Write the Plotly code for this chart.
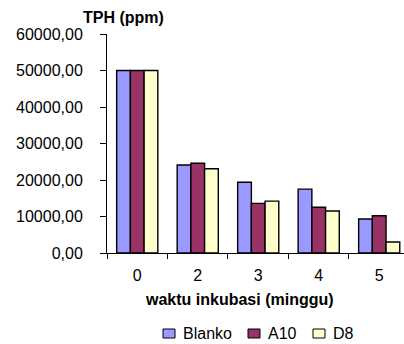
import plotly.graph_objects as go

# Incubation weeks and TPH concentration (ppm) per treatment
weeks = ["0", "2", "3", "4", "5"]
blanko = [50000, 24100, 19400, 17500, 9300]
a10 = [50000, 24600, 13600, 12550, 10200]
d8 = [50000, 23100, 14200, 11500, 3000]

series = [
    ("Blanko", blanko, "#9999FF"),
    ("A10", a10, "#993366"),
    ("D8", d8, "#FFFFCC"),
]

FONT = "Liberation Sans, Arial, sans-serif"
FS = 16

W, H = 404, 344
L, R, T, B = 107, 0, 34, 91
plot_w = W - L - R
plot_h = H - T - B


def px_x(x):
    return (x - L) / plot_w


def px_y(y):
    return (H - B - y) / plot_h


fig = go.Figure()
for name, vals, color in series:
    fig.add_trace(go.Bar(
        x=weeks, y=vals, name=name, showlegend=False,
        marker=dict(color=color, line=dict(color="#000000", width=1.4)),
    ))

annotations = [
    dict(text="<b>TPH (ppm)</b>", x=px_x(123), y=px_y(17)),
    dict(text="<b>waktu inkubasi (minggu)</b>", x=px_x(239), y=px_y(299)),
]
for a in annotations:
    a.update(xref="paper", yref="paper", xanchor="center", yanchor="middle",
             showarrow=False, font=dict(size=FS))

# Legend keys drawn as small boxes with labels beside them
shapes = []
key_left = [163, 248, 313]
for (name, _, color), kx in zip(series, key_left):
    shapes.append(dict(type="rect", xref="paper", yref="paper",
                       x0=px_x(kx), x1=px_x(kx + 12),
                       y0=px_y(338), y1=px_y(329),
                       fillcolor=color, line=dict(color="#000000", width=1)))
    annotations.append(dict(text=name, xref="paper", yref="paper",
                            x=px_x(kx + 18), y=px_y(333.5),
                            xanchor="left", yanchor="middle",
                            showarrow=False, font=dict(size=FS)))

fig.update_layout(
    width=W, height=H,
    margin=dict(l=L, r=R, t=T, b=B),
    paper_bgcolor="white", plot_bgcolor="white",
    barmode="group", bargap=0.32, bargroupgap=0,
    font=dict(family=FONT, size=FS, color="#000000"),
    separators=",.",
    showlegend=False,
    xaxis=dict(
        type="category", range=[-0.5, 4.41],
        showline=True, linecolor="#000000", linewidth=1,
        ticks="outside", tickson="boundaries", ticklen=5, tickcolor="#000000",
        showgrid=False, tickfont=dict(size=FS), ticklabelstandoff=8,
    ),
    yaxis=dict(
        range=[0, 60000], dtick=10000,
        showline=True, linecolor="#000000", linewidth=1,
        ticks="outside", ticklen=6, tickcolor="#000000",
        showgrid=False, zeroline=False,
        tickformat=".2f",
        tickfont=dict(size=FS), ticklabelstandoff=14,
    ),
    annotations=annotations,
    shapes=shapes,
)

fig.write_html("out.html")
